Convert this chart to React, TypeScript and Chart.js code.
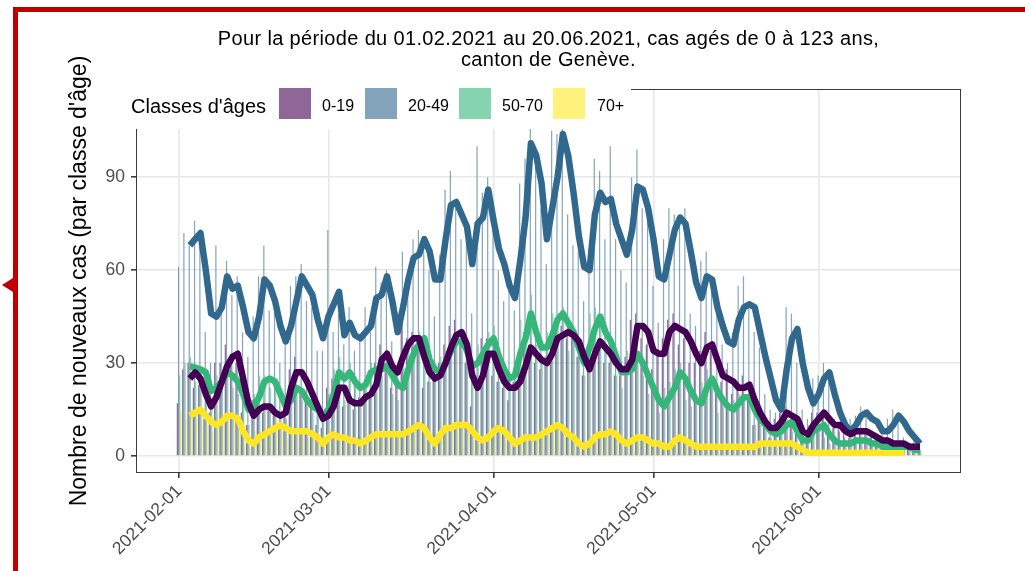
import React, { useEffect, useRef } from "react";
import { Chart, registerables } from "chart.js";

Chart.register(...registerables);

// ---------- data ----------
const startDate = "2021-02-01";
const ageClasses = ["0-19", "20-49", "50-70", "70+"];
const xTickDates = ["2021-02-01", "2021-03-01", "2021-04-01", "2021-05-01", "2021-06-01"];
const yTickValues = [0, 30, 60, 90];

// daily new cases (bars), 2021-02-01 .. 2021-06-20
const daily0to19 = [
  17, 28, 30, 22, 23, 12, 14, 30, 30, 36, 33, 30, 14, 10, 18, 20, 14, 16, 13, 9, 18,
  28, 32, 22, 20, 16, 10, 9, 22, 25, 22, 16, 18, 15, 19, 22, 20, 30, 36, 30, 22, 28,
  42, 38, 40, 36, 22, 24, 28, 30, 36, 42, 44, 36, 30, 16, 26, 38, 38, 26, 24, 22, 18,
  24, 32, 40, 36, 30, 28, 32, 36, 40, 42, 38, 40, 32, 26, 34, 40, 38, 30, 30, 26, 26,
  32, 44, 46, 38, 36, 28, 34, 38, 44, 46, 36, 38, 30, 30, 34, 40, 34, 22, 24, 28, 20,
  22, 26, 20, 10, 12, 10, 6, 12, 14, 16, 10, 9, 5, 8, 14, 14, 12, 10, 9, 9, 7,
  6, 10, 8, 7, 6, 5, 5, 6, 3, 4, 4, 2, 4, 3,
];
const daily20to49 = [
  61, 72, 68, 76, 71, 40, 30, 68, 50, 63, 52, 58, 40, 32, 45, 58, 68, 47, 48, 30, 36,
  55, 58, 62, 50, 48, 34, 34, 73, 40, 46, 36, 48, 34, 38, 48, 40, 61, 56, 60, 37, 28,
  66, 55, 70, 73, 66, 60, 45, 65, 86, 92, 80, 70, 70, 46, 100, 85, 90, 75, 60, 50, 56,
  47, 88, 96, 113, 95, 80, 62, 105, 104, 110, 78, 68, 66, 50, 67, 96, 92, 70, 100, 70, 60,
  56, 90, 99, 80, 76, 55, 43, 70, 80, 78, 76, 80, 46, 42, 63, 66, 55, 50, 36, 30, 40,
  55, 58, 50, 40, 35, 20, 15, 14, 18, 48, 46, 30, 15, 12, 25, 26, 30, 24, 12, 8, 6,
  12, 13, 16, 13, 8, 6, 7, 12, 15, 14, 6, 4, 5, 3,
];
const daily50to70 = [
  26, 30, 32, 24, 28, 20, 18, 26, 26, 30, 22, 20, 18, 10, 20, 26, 26, 22, 24, 14, 12,
  24, 22, 18, 16, 14, 14, 12, 20, 28, 32, 18, 30, 24, 18, 26, 30, 28, 26, 32, 20, 18,
  30, 34, 36, 40, 38, 24, 24, 32, 34, 38, 40, 34, 30, 24, 36, 32, 40, 42, 24, 28, 24,
  30, 44, 42, 52, 36, 30, 40, 46, 46, 48, 34, 38, 32, 26, 46, 48, 42, 34, 34, 26, 22,
  34, 36, 30, 26, 20, 20, 14, 22, 24, 28, 30, 18, 16, 18, 24, 28, 22, 14, 16, 15, 18,
  20, 20, 16, 10, 10, 8, 6, 8, 12, 12, 8, 4, 4, 10, 10, 8, 6, 4, 4, 4, 5,
  6, 4, 5, 4, 4, 3, 2, 4, 3, 2, 3, 2, 2, 2,
];
const daily70plus = [
  14, 12, 15, 16, 12, 10, 8, 14, 12, 14, 12, 10, 4, 3, 8, 8, 9, 10, 12, 8, 6,
  8, 9, 8, 6, 6, 5, 3, 9, 6, 5, 6, 4, 4, 5, 6, 8, 7, 6, 8, 7, 6,
  9, 10, 11, 9, 6, 3, 6, 11, 10, 8, 12, 10, 9, 5, 4, 6, 8, 10, 8, 6, 4,
  4, 7, 6, 6, 7, 8, 9, 10, 11, 8, 6, 4, 2, 3, 6, 8, 7, 8, 9, 5, 3,
  5, 7, 6, 5, 4, 3, 4, 2, 4, 7, 6, 4, 3, 2, 4, 3, 3, 3, 2, 4, 3,
  2, 4, 3, 3, 5, 4, 3, 5, 4, 4, 3, 2, 1, 1, 2, 1, 1, 0, 1, 1, 2,
  1, 0, 1, 1, 0, 1, 1, 0, 1, 1, 0, 1, 0, 1,
];

// smoothed curves, starting 2021-02-03
const smoothStartDate = "2021-02-03";
const smooth0to19 = [
  25, 27, 25, 20, 16, 19, 24, 29, 32, 33, 25, 17, 13, 15, 16, 16, 14, 13, 14, 22, 27,
  27, 24, 20, 16, 12, 13, 16, 22, 22, 18, 17, 17, 19, 20, 23, 31, 33, 29, 27, 32, 36,
  38, 38, 32, 27, 25, 26, 30, 35, 39, 40, 36, 26, 22, 26, 33, 33, 28, 24, 22, 22, 24,
  29, 35, 33, 31, 30, 33, 38, 39, 40, 39, 37, 32, 28, 33, 37, 35, 33, 30, 28, 28, 31,
  42, 42, 40, 34, 33, 33, 40, 42, 41, 40, 37, 33, 30, 35, 36, 31, 26, 25, 24, 22, 22,
  23, 18, 14, 11, 9, 9, 11, 14, 13, 12, 8, 7, 10, 12, 14, 12, 10, 10, 8, 7, 8,
  8, 8, 7, 6, 5, 5, 4, 4, 4, 3, 3, 3,
];
const smooth20to49 = [
  68, 70, 72, 60, 46, 45, 48, 58, 54, 55, 48, 40, 38, 45, 57, 55, 50, 42, 37, 42, 50,
  58, 55, 52, 44, 38, 45, 49, 53, 39, 43, 39, 38, 40, 42, 51, 52, 58, 50, 40, 48, 57,
  64, 65, 70, 66, 57, 57, 70, 81, 82, 78, 74, 62, 75, 77, 86, 76, 67, 62, 55, 51, 63,
  77, 101, 97, 88, 70, 80, 90, 104, 97, 85, 71, 61, 60, 78, 85, 82, 83, 75, 70, 65, 73,
  87, 86, 80, 70, 58, 57, 65, 73, 77, 75, 66, 56, 51, 58, 57, 48, 42, 37, 36, 44, 48,
  49, 48, 40, 32, 25, 18, 15, 28, 38, 41, 30, 22, 17, 20, 25, 27, 20, 14, 10, 8, 10,
  13, 14, 12, 11, 8, 8, 10, 13, 11, 8, 6, 4,
];
const smooth50to70 = [
  29, 28.5, 28, 27, 21, 22, 24, 27, 26, 24, 20, 15, 16, 19, 24, 25, 24, 20, 16, 18, 22,
  21, 18, 16, 15, 13, 15, 20, 27, 25, 27, 24, 22, 23, 27, 28, 28, 29, 26, 23, 22, 28,
  33, 36, 38, 31, 28, 27, 30, 34, 37, 37, 34, 29, 30, 33, 36, 38, 32, 28, 25, 26, 33,
  38, 46, 40, 35, 35, 39, 44, 46, 43, 40, 35, 30, 35, 41, 45, 40, 37, 32, 27, 27, 28,
  33, 30, 26, 22, 18, 16, 19, 22, 27, 25, 21, 18, 17, 22, 25, 21, 18, 16, 15, 17, 19,
  19, 15, 12, 10, 8, 7, 8, 10, 11, 8, 5, 5, 8, 9, 10, 7, 5, 4, 4, 4, 5,
  5, 5, 4, 4, 3, 3, 3, 3, 3, 3, 2, 2,
];
const smooth70plus = [
  13, 14, 15, 13, 11, 10, 11, 13, 13, 12, 8, 5, 4, 6, 7, 8, 9, 10, 9, 8, 8,
  8, 8, 7, 6, 4, 6, 7, 6, 6, 5, 5, 4, 5, 6, 7, 7, 7, 7, 7, 7, 8,
  9, 10, 9, 6, 4, 7, 9, 9, 10, 10, 10, 8, 6, 5, 6, 8, 9, 8, 6, 4, 5,
  6, 6, 6, 7, 8, 9, 10, 9, 7, 6, 4, 3, 4, 6, 7, 7, 8, 7, 5, 4, 5,
  6, 6, 5, 4, 4, 3, 3, 5, 6, 5, 4, 3, 3, 3, 3, 3, 3, 3, 3, 3, 3,
  3, 3, 4, 4, 4, 4, 4, 4, 4, 3, 2, 1, 1, 1, 1, 1, 1, 1, 1, 1, 1,
  1, 1, 1, 1, 1, 1, 1, 1, 1,
];

const dailySeries = [daily0to19, daily20to49, daily50to70, daily70plus];
const smoothSeries = [smooth0to19, smooth20to49, smooth50to70, smooth70plus];

// ---------- styles ----------
const lineColors = ["#440154", "#31688E", "#35B779", "#FDE725"];
const barColors = [
  "rgba(68,1,84,0.6)",
  "rgba(49,104,142,0.6)",
  "rgba(53,183,121,0.6)",
  "rgba(253,231,37,0.6)",
];
const swatchColors = ["#8F6698", "#83A4BB", "#86D4AF", "#FEF17C"];
const FONT = "'Liberation Sans', Arial, Helvetica, sans-serif";

const DAY = 86400000;
const dayOf = (d: string) => Math.round((Date.parse(d) - Date.parse(startDate)) / DAY);

const panelBorder = {
  id: "panelBorder",
  afterDatasetsDraw(chart: any) {
    const { ctx, chartArea } = chart;
    const { left, top, right, bottom } = chartArea;
    ctx.save();
    ctx.strokeStyle = "#3a3a3a";
    ctx.lineWidth = 1;
    ctx.strokeRect(Math.round(left) + 0.5, Math.round(top) + 0.5, Math.round(right - left) - 1, Math.round(bottom - top) - 1);
    ctx.restore();
  },
};

export default function App() {
  const ref = useRef<HTMLCanvasElement>(null);

  useEffect(() => {
    const canvas = ref.current;
    if (!canvas) return;
    Chart.defaults.font.family = FONT;
    const smoothStart = dayOf(smoothStartDate);
    const tickDays = xTickDates.map(dayOf);

    const barSets = dailySeries.map((vals, k) => ({
      type: "bar" as const,
      label: ageClasses[k],
      data: vals.map((v, i) => ({ x: i, y: v })),
      backgroundColor: barColors[k],
      borderWidth: 0,
      categoryPercentage: 0.9,
      barPercentage: 1,
      order: 2,
    }));
    const lineSets = smoothSeries.map((vals, k) => ({
      type: "line" as const,
      label: ageClasses[k] + " (lissé)",
      data: vals.map((v, i) => ({ x: i + smoothStart, y: v })),
      borderColor: lineColors[k],
      backgroundColor: lineColors[k],
      borderWidth: 6.5,
      pointRadius: 0,
      tension: 0,
      borderJoinStyle: "round" as const,
      fill: false,
      order: 1,
    }));

    const chart = new Chart(canvas, {
      type: "bar",
      data: { datasets: [...barSets, ...lineSets] as any },
      options: {
        responsive: false,
        animation: false,
        events: [],
        layout: { padding: { top: 89, right: 64, left: 0, bottom: 0 } },
        plugins: { legend: { display: false }, tooltip: { enabled: false }, title: { display: false } },
        scales: {
          x: {
            type: "linear",
            min: -8.1,
            max: 146.7,
            offset: false,
            afterBuildTicks: (s: any) => {
              s.ticks = tickDays.map((v) => ({ value: v }));
            },
            afterFit: (s: any) => {
              s.height = 98;
            },
            ticks: {
              autoSkip: false,
              minRotation: 45,
              maxRotation: 45,
              padding: 3,
              color: "#4D4D4D",
              font: { size: 17.5, family: FONT },
              callback: (v: any) => {
                const idx = tickDays.indexOf(Number(v));
                return idx >= 0 ? xTickDates[idx] : "";
              },
            },
            grid: { offset: false, color: "#E8E8E8", lineWidth: 1.6, tickColor: "#3a3a3a", tickLength: 5 },
            border: { display: false },
          },
          y: {
            type: "linear",
            min: -5.5,
            max: 118.5,
            afterBuildTicks: (s: any) => {
              s.ticks = yTickValues.map((v) => ({ value: v }));
            },
            afterFit: (s: any) => {
              s.width = 136;
            },
            ticks: {
              padding: 6,
              color: "#4D4D4D",
              font: { size: 17.5, family: FONT },
            },
            grid: { color: "#E8E8E8", lineWidth: 1.6, tickColor: "#3a3a3a", tickLength: 5 },
            border: { display: false },
            title: {
              display: true,
              text: "Nombre de nouveaux cas (par classe d'âge)",
              color: "#000000",
              font: { size: 23, family: FONT },
              padding: { top: 66, bottom: 0 },
            },
          },
        },
      },
      plugins: [panelBorder],
    } as any);

    return () => chart.destroy();
  }, []);

  const swatchLeft = [279, 365, 459, 553];
  const labelLeft = [322, 408, 502, 597];
  const titleStyle: React.CSSProperties = {
    position: "absolute",
    left: 136,
    width: 825,
    textAlign: "center",
    fontSize: 20,
    lineHeight: "20px",
    letterSpacing: "0.35px",
    color: "#000",
    whiteSpace: "nowrap",
  };

  return (
    <div style={{ position: "fixed", left: 0, top: 0, width: 1025, height: 571, overflow: "hidden", background: "#ffffff", fontFamily: FONT }}>
      <canvas ref={ref} width={1025} height={571} style={{ position: "absolute", left: 0, top: 0, display: "block" }} />

      {/* title */}
      <div style={{ ...titleStyle, top: 28 }}>
        Pour la période du 01.02.2021 au 20.06.2021, cas agés de 0 à 123 ans,
      </div>
      <div style={{ ...titleStyle, top: 49 }}>canton de Genève.</div>

      {/* legend */}
      <div style={{ position: "absolute", left: 127, top: 85, width: 504, height: 44, background: "#ffffff" }} />
      <div style={{ position: "absolute", left: 131, top: 96, fontSize: 20, lineHeight: "20px", color: "#000", whiteSpace: "nowrap" }}>
        Classes d'âges
      </div>
      {ageClasses.map((c, k) => (
        <React.Fragment key={c}>
          <div style={{ position: "absolute", left: swatchLeft[k], top: 88, width: 32, height: 31, background: swatchColors[k] }} />
          <div style={{ position: "absolute", left: labelLeft[k], top: 98, fontSize: 16, lineHeight: "16px", color: "#000", whiteSpace: "nowrap" }}>
            {c}
          </div>
        </React.Fragment>
      ))}

      {/* red frame */}
      <div style={{ position: "absolute", left: 13, top: 7, width: 1020, height: 570, borderTop: "5px solid #C00000", borderLeft: "5px solid #C00000" }} />
      <div style={{ position: "absolute", left: 2, top: 278, width: 0, height: 0, borderTop: "7px solid transparent", borderBottom: "7px solid transparent", borderRight: "11px solid #C00000" }} />
    </div>
  );
}
